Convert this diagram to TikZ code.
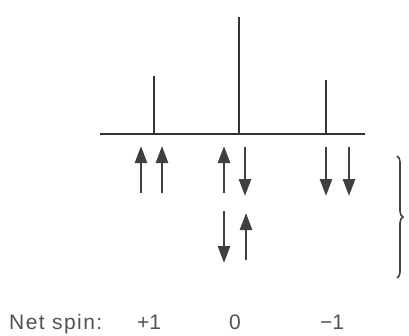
\documentclass[tikz,border=0pt]{standalone}
\usepackage{fontspec}
\setmainfont{Liberation Sans}
\newfontfamily\spinfont[LetterSpace=7]{Liberation Sans}
\usetikzlibrary{arrows.meta,decorations.pathreplacing}
\begin{document}
\begin{tikzpicture}[x=1pt,y=-1pt,
  ink/.style={draw=black!80,line width=2.6pt},
  spinarrow/.style={draw=black!75,line width=2.6pt,-{Triangle[length=17pt,width=12pt]}},
  lbl/.style={text=black!68,font=\fontsize{21}{25}\selectfont,inner sep=0pt,anchor=base}]
\useasboundingbox (0,0) rectangle (409,335);
% axis and lines
\coordinate (axL) at (100,134);
\coordinate (axR) at (365,134);
\draw[ink] (axL) -- (axR);
\coordinate (p1) at (154,134); \coordinate (t1) at (154,76);
\coordinate (p2) at (239,134); \coordinate (t2) at (239,17);
\coordinate (p3) at (326,134); \coordinate (t3) at (326,80);
\draw[ink] (p1) -- (t1);
\draw[ink] (p2) -- (t2);
\draw[ink] (p3) -- (t3);
% spin arrows row 1
\draw[spinarrow] (141,193) -- (141,146);
\draw[spinarrow] (162,193) -- (162,146);
\draw[spinarrow] (224,193) -- (224,146);
\draw[spinarrow] (245,147) -- (245,196);
\draw[spinarrow] (326,147) -- (326,196);
\draw[spinarrow] (349,147) -- (349,196);
% row 2
\draw[spinarrow] (224,211) -- (224,263);
\draw[spinarrow] (246,260) -- (246,213);
% brace
\coordinate (bt) at (397,156);
\coordinate (bb) at (397,278);
\draw[draw=black!75,line width=1.6pt,decorate,decoration={brace,amplitude=6pt}] (bt) -- (bb);
% labels
\node[lbl,anchor=base west] (ns) at (9,329) {\spinfont Net spin:};
\node[lbl] (s1) at (149,329) {+1};
\node[lbl] (s2) at (235,329) {0};
\node[lbl] (s3) at (332,329) {−1};
\end{tikzpicture}
\end{document}
